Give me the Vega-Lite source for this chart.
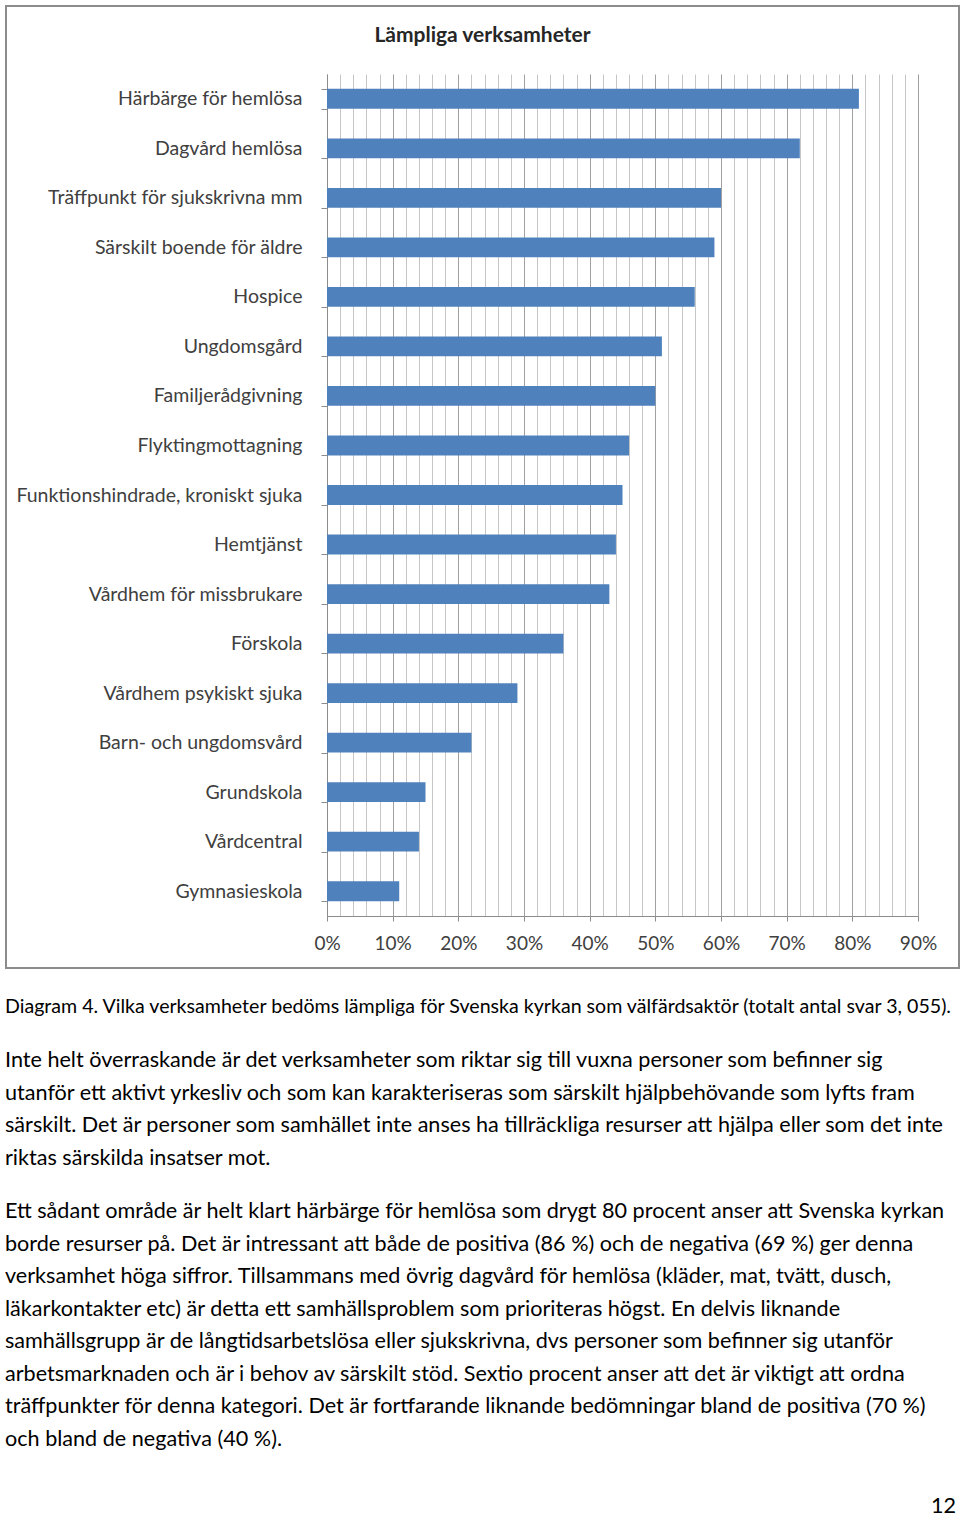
{
  "$schema": "https://vega.github.io/schema/vega-lite/v6.json",
  "background": "white",
  "padding": {"left": 5, "top": -5, "right": 0, "bottom": 0},
  "spacing": 21,
  "config": {
    "view": {"stroke": null},
    "font": "Lato",
    "text": {"font": "Lato"}
  },
  "vconcat": [
    {
      "width": 953,
      "height": 962,
      "view": {"stroke": "#8C8C8C", "strokeWidth": 2},
      "title": {
        "text": "Lämpliga verksamheter",
        "font": "Lato",
        "fontSize": 21,
        "fontWeight": "bold",
        "color": "#262626",
        "anchor": "middle",
        "offset": -50
      },
      "data": {
        "values": [
          {"activity": "Härbärge för hemlösa", "share": 0.81},
          {"activity": "Dagvård hemlösa", "share": 0.72},
          {"activity": "Träffpunkt för sjukskrivna mm", "share": 0.60},
          {"activity": "Särskilt boende för äldre", "share": 0.59},
          {"activity": "Hospice", "share": 0.56},
          {"activity": "Ungdomsgård", "share": 0.51},
          {"activity": "Familjerådgivning", "share": 0.50},
          {"activity": "Flyktingmottagning", "share": 0.46},
          {"activity": "Funktionshindrade, kroniskt sjuka", "share": 0.45},
          {"activity": "Hemtjänst", "share": 0.44},
          {"activity": "Vårdhem för missbrukare", "share": 0.43},
          {"activity": "Förskola", "share": 0.36},
          {"activity": "Vårdhem psykiskt sjuka", "share": 0.29},
          {"activity": "Barn- och ungdomsvård", "share": 0.22},
          {"activity": "Grundskola", "share": 0.15},
          {"activity": "Vårdcentral", "share": 0.14},
          {"activity": "Gymnasieskola", "share": 0.11}
        ]
      },
      "mark": {"type": "bar", "color": "#4F81BD"},
      "encoding": {
        "y": {
          "field": "activity",
          "type": "nominal",
          "sort": null,
          "title": null,
          "scale": {"range": [68, 910], "paddingInner": 0.6, "paddingOuter": 0.3},
          "axis": {
            "offset": -321,
            "tickBand": "extent",
            "domainColor": "#8C8C8C",
            "tickColor": "#8C8C8C",
            "tickSize": 6,
            "labelPadding": 19,
            "labelFont": "Lato",
            "labelFontSize": 19.5,
            "labelColor": "#404040",
            "labelLimit": 400
          }
        },
        "x": {
          "field": "share",
          "type": "quantitative",
          "title": null,
          "scale": {"domain": [0, 0.9], "range": [321, 912], "nice": false},
          "axis": {
            "orient": "top",
            "offset": -910,
            "values": [0, 0.02, 0.04, 0.06, 0.08, 0.1, 0.12, 0.14, 0.16, 0.18, 0.2, 0.22, 0.24, 0.26, 0.28, 0.3, 0.32, 0.34, 0.36, 0.38, 0.4, 0.42, 0.44, 0.46, 0.48, 0.5, 0.52, 0.54, 0.56, 0.58, 0.6, 0.62, 0.64, 0.66, 0.68, 0.7, 0.72, 0.74, 0.76, 0.78, 0.8, 0.82, 0.84, 0.86, 0.88, 0.9],
            "labelExpr": "round(datum.value * 100) % 10 == 0 ? format(datum.value, '.0%') : ''",
            "labelOverlap": false,
            "labelFlush": false,
            "labelFont": "Lato",
            "labelFontSize": 19,
            "labelColor": "#404040",
            "labelBaseline": "middle",
            "labelPadding": -22,
            "tickSize": -5,
            "tickColor": "#8C8C8C",
            "tickOpacity": {"condition": {"test": "round(datum.value * 100) % 10 == 0", "value": 1}, "value": 0},
            "domainColor": "#8C8C8C",
            "grid": true,
            "gridColor": {"condition": {"test": "round(datum.value * 100) % 10 == 0", "value": "#A0A0A0"}, "value": "#C6C6C6"},
            "gridOpacity": 1
          }
        }
      }
    },
    {
      "width": 953,
      "height": 34,
      "data": {"values": [
        {"line": 1, "text": "Diagram 4. Vilka verksamheter bedöms lämpliga för Svenska kyrkan som välfärdsaktör (totalt antal svar 3, 055)."}
      ]},
      "mark": {"type": "text", "align": "left", "baseline": "middle", "font": "Lato", "fontSize": 19.6, "color": "#000000"},
      "encoding": {
        "x": {"value": -1},
        "y": {"field": "line", "type": "ordinal", "axis": null},
        "text": {"field": "text"}
      }
    },
    {
      "width": 953,
      "height": 130,
      "data": {"values": [
        {"line": 1, "text": "Inte helt överraskande är det verksamheter som riktar sig till vuxna personer som befinner sig"},
        {"line": 2, "text": "utanför ett aktivt yrkesliv och som kan karakteriseras som särskilt hjälpbehövande som lyfts fram"},
        {"line": 3, "text": "särskilt. Det är personer som samhället inte anses ha tillräckliga resurser att hjälpa eller som det inte"},
        {"line": 4, "text": "riktas särskilda insatser mot."}
      ]},
      "mark": {"type": "text", "align": "left", "baseline": "middle", "font": "Lato", "fontSize": 21.6, "color": "#000000"},
      "encoding": {
        "x": {"value": -1},
        "y": {"field": "line", "type": "ordinal", "axis": null},
        "text": {"field": "text"}
      }
    },
    {
      "width": 953,
      "height": 260,
      "data": {"values": [
        {"line": 1, "text": "Ett sådant område är helt klart härbärge för hemlösa som drygt 80 procent anser att Svenska kyrkan"},
        {"line": 2, "text": "borde resurser på. Det är intressant att både de positiva (86 %) och de negativa (69 %) ger denna"},
        {"line": 3, "text": "verksamhet höga siffror. Tillsammans med övrig dagvård för hemlösa (kläder, mat, tvätt, dusch,"},
        {"line": 4, "text": "läkarkontakter etc) är detta ett samhällsproblem som prioriteras högst. En delvis liknande"},
        {"line": 5, "text": "samhällsgrupp är de långtidsarbetslösa eller sjukskrivna, dvs personer som befinner sig utanför"},
        {"line": 6, "text": "arbetsmarknaden och är i behov av särskilt stöd. Sextio procent anser att det är viktigt att ordna"},
        {"line": 7, "text": "träffpunkter för denna kategori. Det är fortfarande liknande bedömningar bland de positiva (70 %)"},
        {"line": 8, "text": "och bland de negativa (40 %)."}
      ]},
      "mark": {"type": "text", "align": "left", "baseline": "middle", "font": "Lato", "fontSize": 21.6, "color": "#000000"},
      "encoding": {
        "x": {"value": -1},
        "y": {"field": "line", "type": "ordinal", "axis": null},
        "text": {"field": "text"}
      }
    },
    {
      "width": 953,
      "height": 60,
      "data": {"values": [{"line": 1, "text": "12"}]},
      "mark": {"type": "text", "align": "right", "baseline": "middle", "font": "Lato", "fontSize": 21.6, "color": "#000000"},
      "encoding": {
        "x": {"value": 950},
        "y": {"field": "line", "type": "ordinal", "axis": null},
        "text": {"field": "text"}
      }
    }
  ]
}
